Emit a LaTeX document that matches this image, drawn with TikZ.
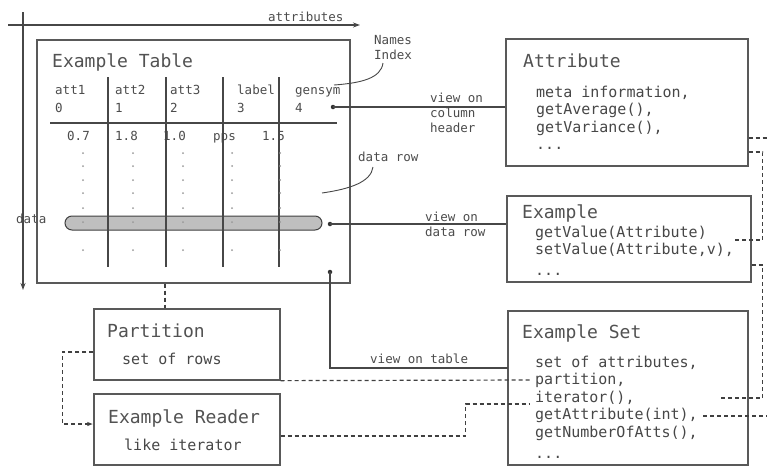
\documentclass[tikz,border=0pt]{standalone}
\usepackage{fontspec}
\setmonofont{DejaVu Sans Mono}
\usetikzlibrary{arrows.meta,calc}
\begin{document}
\begin{tikzpicture}[x=1pt,y=-1pt,
  ln/.style={draw=black!72, line width=1.1pt},
  box/.style={draw=black!65, line width=1.3pt, rectangle, inner sep=0pt},
  dl/.style={draw=black!75, line width=1.2pt, dash pattern=on 4pt off 3pt},
  ttl/.style={font=\ttfamily\fontsize{18}{20}\selectfont, text=black!68, inner sep=0pt, anchor=base west},
  bod/.style={font=\ttfamily\fontsize{15}{17.5}\selectfont, text=black!72, inner sep=0pt, anchor=base west},
  sml/.style={font=\ttfamily\fontsize{12.5}{15}\selectfont, text=black!70, inner sep=0pt, anchor=base west},
  pt/.style={circle, fill=black!80, inner sep=0pt, minimum size=4.5pt},
  rowshape/.style={draw=black!75, line width=1pt, fill=black!25, rounded corners=7pt, inner sep=0pt},
]
\useasboundingbox[fill=white] (0,0) rectangle (767,466);

% axes
\draw[ln,-{Stealth[length=7pt,width=5pt]}] (8,25) -- (360,25);
\draw[ln,-{Stealth[length=7pt,width=5pt]}] (23,12) -- (23,290);
\node[sml] (lattr) at (268,21) {attributes};
\node[sml] (ldata) at (16,223) {data};

% boxes
\node[box, minimum width=313pt, minimum height=243pt] (tbl) at (193.5,161.5) {};
\node[box, minimum width=242pt, minimum height=127pt] (attr) at (627,102.5) {};
\node[box, minimum width=244pt, minimum height=86pt] (ex) at (629,239) {};
\node[box, minimum width=240pt, minimum height=154pt] (exset) at (628,388) {};
\node[box, minimum width=186pt, minimum height=71pt] (part) at (187,344.5) {};
\node[box, minimum width=186pt, minimum height=71pt] (reader) at (187,429.5) {};

% table contents
\node[ttl] (tbltitle) at (52,67) {Example Table};
\node[sml] (h1) at (55,94) {att1};
\node[sml] (h2) at (115,94) {att2};
\node[sml] (h3) at (170,94) {att3};
\node[sml] (h4) at (237,94) {label};
\node[sml] (h5) at (295,94) {gensym};
\node[sml] (hi1) at (55,112) {0};
\node[sml] (hi2) at (115,112) {1};
\node[sml] (hi3) at (170,112) {2};
\node[sml] (hi4) at (237,112) {3};
\node[sml] (hi5) at (295,112) {4};
\node[sml] (v1) at (67,140) {0.7};
\node[sml] (v2) at (115,140) {1.8};
\node[sml] (v3) at (163,140) {1.0};
\node[sml] (v4) at (213,140) {pps};
\node[sml] (v5) at (262,140) {1.5};
\draw[ln] (50,123) -- (337,123);
\node[rowshape, minimum width=257pt, minimum height=14pt] (row) at (193.5,223) {};
\foreach \xx in {108,166,223,279} \draw[ln] (\xx,77) -- (\xx,267);
\foreach \xx in {83,133,183,232,280}
  \foreach \yy in {153,166,180,193,208,222,250}
    \fill[black!40] (\xx,\yy) circle (1);

% labels
\node[sml] (ni1) at (374,44) {Names};
\node[sml] (ni2) at (374,59) {Index};
\coordinate (nc1) at (383,63);
\coordinate (nc2) at (334,85);
\draw[ln, line width=0.9pt] (nc1) .. controls (381,78) and (362,83) .. (nc2);
\node[sml] (dr) at (358,161) {data row};
\coordinate (dc1) at (373,167);
\coordinate (dc2) at (322,193);
\draw[ln, line width=0.9pt] (dc1) .. controls (371,182) and (350,189) .. (dc2);

\node[sml] (vc1) at (430,102) {view on};
\node[sml] (vc2) at (430,117) {column};
\node[sml] (vc3) at (430,132) {header};
\node[sml] (vd1) at (425,221) {view on};
\node[sml] (vd2) at (425,236) {data row};
\node[sml] (vt) at (370,363) {view on table};

% Attribute
\node[ttl] (attrtitle) at (523,67) {Attribute};
\node[bod] (a1) at (536,97) {meta information,};
\node[bod] (a2) at (536,114.5) {getAverage(),};
\node[bod] (a3) at (536,132) {getVariance(),};
\node[bod] (a4) at (536,149.5) {...};

% Example
\node[ttl] (extitle) at (522,218) {Example};
\node[bod] (e1) at (535,237) {getValue(Attribute)};
\node[bod] (e2) at (535,254) {setValue(Attribute,v),};
\node[bod] (e3) at (535,275) {...};

% Example Set
\node[ttl] (settitle) at (522,338) {Example Set};
\node[bod] (s1) at (535,367) {set of attributes,};
\node[bod] (s2) at (535,384.5) {partition,};
\node[bod] (s3) at (535,402) {iterator(),};
\node[bod] (s4) at (535,419.5) {getAttribute(int),};
\node[bod] (s5) at (535,437) {getNumberOfAtts(),};
\node[bod] (s6) at (535,458) {...};

% Partition / Reader
\node[ttl] (parttitle) at (107,337) {Partition};
\node[bod] (p1) at (122,364) {set of rows};
\node[ttl] (readtitle) at (108,423) {Example Reader};
\node[bod] (r1) at (124,450) {like iterator};

% solid connectors
\node[pt] (gs) at (333,107) {};
\draw[ln] (gs.center) -- (gs.center -| attr.west);
\node[pt] (rowpt) at (330,224) {};
\draw[ln] (rowpt.center) -- (rowpt.center -| ex.west);
\node[pt] (tblpt) at (330,272) {};
\coordinate (vtend) at (508,368);
\draw[ln] (tblpt.center) |- (vtend);

% dashed connectors
\draw[dl] ([xshift=-28.5pt]tbl.south) -- ([xshift=-22pt]part.north);
\draw[dl,-{Latex[length=6pt,width=4.5pt]}] ([yshift=-7.5pt]part.west) -- ++(-31,0) |- ([yshift=5.5pt]reader.west);
\coordinate (pe) at (530,380);
\draw[dl] (part.south east) -- (pe);
\coordinate (ie) at (530,404);
\draw[dl] ([yshift=-6.5pt]reader.east) -- ++(185,0) |- (ie);
\coordinate (r1e) at (767,138);
\draw[dl] ([yshift=-35.5pt]attr.east) -- (r1e);
\coordinate (r2e) at (735,240);
\draw[dl] ([yshift=-49.5pt]attr.east) -- ++(14,0) |- (r2e);
\coordinate (r3e) at (720,398);
\draw[dl] ([yshift=-26pt]ex.east) -- ++(11,0) |- (r3e);
\coordinate (r4a) at (703,416);
\coordinate (r4b) at (767,416);
\draw[dl] (r4a) -- (r4b);
\end{tikzpicture}
\end{document}
